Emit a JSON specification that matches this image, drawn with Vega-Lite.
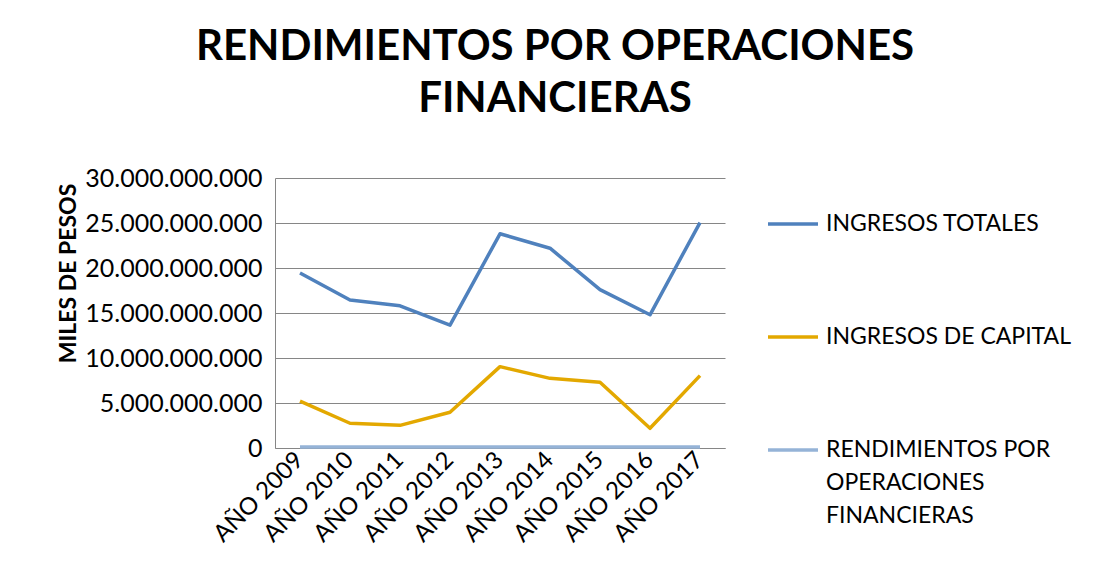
{
  "$schema": "https://vega.github.io/schema/vega-lite/v6.json",
  "width": 450,
  "height": 270,
  "autosize": {"type": "none"},
  "padding": {"left": 275, "top": 178, "right": 371, "bottom": 135},
  "background": "white",
  "config": {
    "locale": {"number": {"decimal": ",", "thousands": ".", "grouping": [3], "currency": ["$", ""]}},
    "view": {"stroke": null},
    "font": "Lato",
    "style": {"guide-label": {"lineHeight": 33}}
  },
  "title": {
    "text": ["RENDIMIENTOS POR OPERACIONES", "FINANCIERAS"],
    "font": "Lato",
    "fontSize": 42,
    "fontWeight": "bold",
    "color": "#000000",
    "lineHeight": 52,
    "dx": 55,
    "offset": 45
  },
  "data": {
    "values": [
      {"anio": "AÑO 2009", "serie": "INGRESOS TOTALES", "valor": 19450000000},
      {"anio": "AÑO 2010", "serie": "INGRESOS TOTALES", "valor": 16450000000},
      {"anio": "AÑO 2011", "serie": "INGRESOS TOTALES", "valor": 15800000000},
      {"anio": "AÑO 2012", "serie": "INGRESOS TOTALES", "valor": 13650000000},
      {"anio": "AÑO 2013", "serie": "INGRESOS TOTALES", "valor": 23800000000},
      {"anio": "AÑO 2014", "serie": "INGRESOS TOTALES", "valor": 22200000000},
      {"anio": "AÑO 2015", "serie": "INGRESOS TOTALES", "valor": 17600000000},
      {"anio": "AÑO 2016", "serie": "INGRESOS TOTALES", "valor": 14800000000},
      {"anio": "AÑO 2017", "serie": "INGRESOS TOTALES", "valor": 25050000000},
      {"anio": "AÑO 2009", "serie": "INGRESOS DE CAPITAL", "valor": 5200000000},
      {"anio": "AÑO 2010", "serie": "INGRESOS DE CAPITAL", "valor": 2750000000},
      {"anio": "AÑO 2011", "serie": "INGRESOS DE CAPITAL", "valor": 2520000000},
      {"anio": "AÑO 2012", "serie": "INGRESOS DE CAPITAL", "valor": 3970000000},
      {"anio": "AÑO 2013", "serie": "INGRESOS DE CAPITAL", "valor": 9040000000},
      {"anio": "AÑO 2014", "serie": "INGRESOS DE CAPITAL", "valor": 7740000000},
      {"anio": "AÑO 2015", "serie": "INGRESOS DE CAPITAL", "valor": 7300000000},
      {"anio": "AÑO 2016", "serie": "INGRESOS DE CAPITAL", "valor": 2190000000},
      {"anio": "AÑO 2017", "serie": "INGRESOS DE CAPITAL", "valor": 8040000000},
      {"anio": "AÑO 2009", "serie": "RENDIMIENTOS POR OPERACIONES FINANCIERAS", "valor": 100000000},
      {"anio": "AÑO 2010", "serie": "RENDIMIENTOS POR OPERACIONES FINANCIERAS", "valor": 100000000},
      {"anio": "AÑO 2011", "serie": "RENDIMIENTOS POR OPERACIONES FINANCIERAS", "valor": 100000000},
      {"anio": "AÑO 2012", "serie": "RENDIMIENTOS POR OPERACIONES FINANCIERAS", "valor": 100000000},
      {"anio": "AÑO 2013", "serie": "RENDIMIENTOS POR OPERACIONES FINANCIERAS", "valor": 100000000},
      {"anio": "AÑO 2014", "serie": "RENDIMIENTOS POR OPERACIONES FINANCIERAS", "valor": 100000000},
      {"anio": "AÑO 2015", "serie": "RENDIMIENTOS POR OPERACIONES FINANCIERAS", "valor": 100000000},
      {"anio": "AÑO 2016", "serie": "RENDIMIENTOS POR OPERACIONES FINANCIERAS", "valor": 100000000},
      {"anio": "AÑO 2017", "serie": "RENDIMIENTOS POR OPERACIONES FINANCIERAS", "valor": 100000000}
    ]
  },
  "mark": {"type": "line", "strokeCap": "butt", "strokeJoin": "round"},
  "encoding": {
    "x": {
      "field": "anio",
      "type": "ordinal",
      "sort": null,
      "scale": {"type": "band", "paddingInner": 0, "paddingOuter": 0},
      "axis": {
        "title": null,
        "labelAngle": -45,
        "labelAlign": "right",
        "labelBaseline": "middle",
        "labelFont": "Lato",
        "labelFontSize": 24,
        "labelColor": "#000000",
        "labelPadding": 8,
        "ticks": false,
        "domainColor": "#868686",
        "domainWidth": 1,
        "grid": false
      }
    },
    "y": {
      "field": "valor",
      "type": "quantitative",
      "scale": {"domain": [0, 30000000000], "nice": false},
      "axis": {
        "title": "MILES DE PESOS",
        "titleFont": "Lato",
        "titleFontSize": 23,
        "titleFontWeight": "bold",
        "titleColor": "#000000",
        "titlePadding": 4,
        "titleY": 95,
        "values": [0, 5000000000, 10000000000, 15000000000, 20000000000, 25000000000, 30000000000],
        "format": ",d",
        "labelFont": "Lato",
        "labelFontSize": 25,
        "labelColor": "#000000",
        "labelPadding": 13,
        "ticks": false,
        "domainColor": "#868686",
        "domainWidth": 1,
        "grid": true,
        "gridColor": "#868686",
        "gridWidth": 1
      }
    },
    "color": {
      "field": "serie",
      "type": "nominal",
      "scale": {
        "domain": ["INGRESOS TOTALES", "INGRESOS DE CAPITAL", "RENDIMIENTOS POR OPERACIONES FINANCIERAS"],
        "range": ["#4F81BD", "#E3A800", "#95B3D7"]
      },
      "legend": {
        "title": null,
        "orient": "none",
        "legendX": 491,
        "legendY": 19,
        "symbolType": "stroke",
        "symbolSize": 2500,
        "symbolStrokeWidth": 4,
        "labelFont": "Lato",
        "labelFontSize": 23,
        "labelColor": "#000000",
        "labelOffset": 6,
        "labelLimit": 400,
        "rowPadding": 74,
        "labelExpr": "datum.label == 'RENDIMIENTOS POR OPERACIONES FINANCIERAS' ? ['RENDIMIENTOS POR', 'OPERACIONES', 'FINANCIERAS'] : datum.label"
      }
    },
    "strokeWidth": {
      "field": "serie",
      "type": "nominal",
      "scale": {
        "domain": ["INGRESOS TOTALES", "INGRESOS DE CAPITAL", "RENDIMIENTOS POR OPERACIONES FINANCIERAS"],
        "range": [3.5, 3.5, 5]
      },
      "legend": null
    }
  }
}
